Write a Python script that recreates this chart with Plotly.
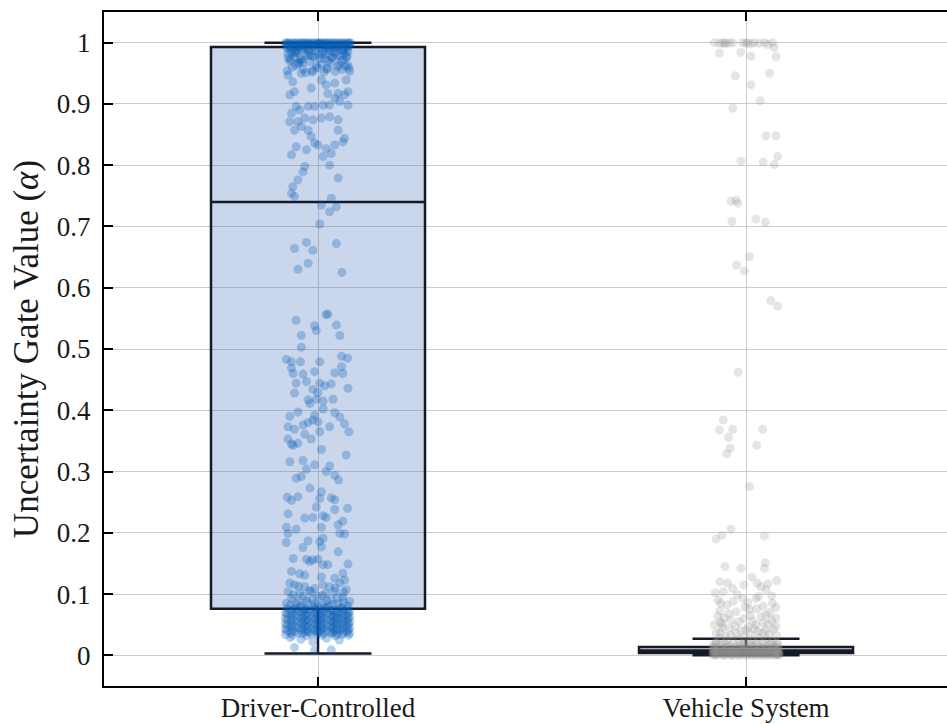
import plotly.graph_objects as go

categories = ["Driver-Controlled", "Vehicle System"]
y_tick_vals = [0, 0.1, 0.2, 0.3, 0.4, 0.5, 0.6, 0.7, 0.8, 0.9, 1.0]
y_tick_text = ["0", "0.1", "0.2", "0.3", "0.4", "0.5", "0.6", "0.7", "0.8", "0.9", "1"]

# box statistics
box_q1 = [0.076, 0.004]
box_median = [0.740, 0.008]
box_q3 = [0.993, 0.0135]
box_lower = [0.003, 0.000]
box_upper = [1.000, 0.027]

# ---- Driver-Controlled points: gate value and horizontal jitter (category units)
drv_top_y = [
    1.000, 1.000, 1.000, 1.000, 1.000, 1.000, 1.000, 1.000, 1.000, 1.000,
    1.000, 1.000, 1.000, 1.000, 1.000, 1.000, 1.000, 1.000, 1.000, 1.000,
    0.999, 0.999, 0.999, 0.999, 0.999, 0.999, 0.999, 0.999, 0.999, 0.999,
    0.998, 0.998, 0.998, 0.998, 0.998, 0.998, 0.998, 0.998, 0.998, 0.998,
    0.997, 0.997, 0.997, 0.997, 0.997, 0.997, 0.997, 0.997, 0.997, 0.997,
    0.996, 0.995, 0.996, 0.995, 0.996, 0.995, 0.996, 0.995, 0.996, 0.995,
    0.994, 0.993, 0.994, 0.993, 0.994, 0.993, 0.994, 0.993, 0.994, 0.993,
    0.992, 0.991, 0.990, 0.992, 0.991, 0.990, 0.992, 0.991, 0.990, 0.992,
    0.989, 0.988, 0.987, 0.989, 0.988, 0.987, 0.986, 0.985, 0.984, 0.983,
    0.982, 0.981, 0.980, 0.979, 0.978, 0.977, 0.976, 0.975, 0.974, 0.973,
    0.972, 0.970, 0.969, 0.967, 0.966, 0.965, 0.963, 0.962, 0.961, 0.960,
    0.958, 0.957, 0.956, 0.955, 0.954, 0.953, 0.952, 0.951, 0.958, 0.963,
    0.988, 0.986, 0.984, 0.982, 0.980, 0.978, 0.976, 0.974, 0.972, 0.970,
    0.985, 0.983, 0.981, 0.979, 0.977, 0.975, 0.971, 0.968, 0.964, 0.959,
    0.990, 0.987, 0.984, 0.981, 0.976, 0.973, 0.968, 0.962, 0.957, 0.952,
]
drv_top_dx = [
    -0.074, -0.058, -0.041, -0.027, -0.010, 0.004, 0.019, 0.035, 0.052, 0.070,
    -0.067, -0.049, -0.033, -0.018, 0.000, 0.012, 0.027, 0.044, 0.061, 0.076,
    -0.071, -0.053, -0.037, -0.022, -0.005, 0.008, 0.023, 0.040, 0.057, 0.073,
    -0.062, -0.045, -0.030, -0.014, 0.002, 0.016, 0.031, 0.048, 0.064, -0.076,
    -0.069, -0.051, -0.035, -0.020, -0.003, 0.010, 0.025, 0.042, 0.059, 0.074,
    -0.060, -0.043, -0.028, -0.012, 0.005, 0.018, 0.033, 0.050, 0.066, -0.073,
    -0.066, -0.047, -0.024, -0.008, 0.014, 0.029, 0.046, 0.063, 0.071, -0.038,
    -0.056, -0.072, -0.016, 0.021, 0.038, 0.055, -0.032, 0.006, 0.068, 0.045,
    -0.064, -0.040, -0.006, 0.026, 0.058, -0.022, 0.012, 0.070, -0.050, 0.040,
    -0.070, 0.018, -0.030, 0.052, -0.012, 0.066, -0.054, 0.034, 0.004, -0.042,
    0.060, -0.066, -0.020, 0.030, -0.046, 0.008, 0.070, -0.004, 0.046, -0.060,
    0.022, -0.034, 0.056, -0.012, -0.072, 0.040, 0.014, -0.028, 0.072, -0.052,
    -0.048, 0.028, -0.062, 0.062, -0.024, 0.044, -0.008, 0.016, -0.038, 0.054,
    0.036, -0.056, 0.010, -0.018, 0.068, -0.070, 0.024, -0.044, 0.050, -0.002,
    -0.026, 0.058, -0.052, 0.002, 0.032, -0.064, -0.036, 0.064, 0.020, -0.014,
]

drv_mid_y = [
    0.947, 0.936, 0.950, 0.926, 0.939, 0.931, 0.917, 0.934, 0.939, 0.953,
    0.917, 0.915, 0.915, 0.920, 0.896, 0.885, 0.890, 0.896, 0.896, 0.898,
    0.898, 0.904, 0.898, 0.920, 0.909, 0.871, 0.871, 0.877, 0.874, 0.877,
    0.879, 0.874, 0.857, 0.863, 0.857, 0.847, 0.857, 0.844, 0.838, 0.836,
    0.833, 0.830, 0.825, 0.827, 0.833, 0.819, 0.817, 0.814, 0.800, 0.798,
    0.789, 0.776, 0.779, 0.765, 0.754, 0.749, 0.746, 0.735, 0.732,
    0.724, 0.704, 0.664, 0.674, 0.661, 0.672, 0.640, 0.630, 0.625, 0.547,
    0.556, 0.557, 0.538, 0.530, 0.539, 0.522, 0.522, 0.503, 0.483, 0.479,
    0.479, 0.479, 0.488, 0.485, 0.469, 0.460, 0.459, 0.463, 0.461, 0.460,
    0.471, 0.444, 0.447, 0.444, 0.440, 0.443, 0.436, 0.434, 0.428, 0.429,
    0.417, 0.418, 0.415, 0.418, 0.411, 0.397, 0.392, 0.396, 0.390, 0.402,
]
drv_mid_dx = [
    -0.070, -0.059, -0.039, -0.016, 0.008, 0.019, 0.023, 0.039, 0.066, 0.074,
    0.047, 0.062, -0.066, -0.055, -0.051, -0.062, -0.043, -0.023, -0.008, 0.012,
    0.027, 0.051, 0.070, 0.070, 0.040, -0.066, -0.047, -0.031, -0.012, 0.008,
    0.027, 0.047, -0.055, -0.039, -0.023, -0.016, 0.047, 0.062, 0.058, -0.008,
    0.000, -0.051, -0.027, 0.019, 0.039, 0.031, -0.062, 0.012, 0.027, -0.031,
    -0.035, -0.047, 0.047, -0.059, -0.062, -0.055, 0.031, 0.008, 0.043,
    0.027, 0.004, -0.055, -0.027, -0.012, 0.043, -0.023, -0.047, 0.056, -0.051,
    0.019, 0.023, -0.008, -0.004, 0.043, -0.039, 0.051, -0.039, -0.074, -0.062,
    -0.041, 0.004, 0.055, 0.069, -0.062, -0.058, -0.035, -0.008, 0.039, 0.058,
    0.055, -0.051, -0.027, 0.004, 0.016, 0.031, 0.070, -0.012, -0.055, 0.000,
    -0.023, -0.004, 0.012, 0.035, -0.019, -0.047, -0.008, 0.039, -0.066, 0.012,
]

drv_low_y = [
    0.389, 0.373, 0.369, 0.376, 0.380, 0.384, 0.381, 0.373, 0.378, 0.365,
    0.361, 0.365, 0.353, 0.353, 0.345, 0.343, 0.346, 0.336, 0.327, 0.316,
    0.318, 0.311, 0.304, 0.309, 0.300, 0.294, 0.289, 0.292, 0.286, 0.273,
    0.267, 0.258, 0.253, 0.259, 0.256, 0.257, 0.254, 0.242, 0.238, 0.240,
    0.231, 0.224, 0.225, 0.228, 0.225, 0.219, 0.213, 0.209, 0.206, 0.209,
    0.199, 0.199, 0.198, 0.184, 0.187, 0.186, 0.191, 0.176, 0.177, 0.169,
    0.158, 0.157, 0.153, 0.156, 0.157, 0.148, 0.148, 0.149, 0.137, 0.133,
    0.131, 0.134, 0.123, 0.126, 0.128,
]
drv_low_dx = [
    0.051, -0.070, -0.055, -0.035, -0.023, -0.012, 0.000, 0.027, 0.062, 0.072,
    -0.031, 0.004, -0.016, -0.070, -0.062, -0.058, -0.047, 0.008, 0.066, -0.066,
    -0.035, -0.008, -0.027, 0.027, 0.019, 0.039, -0.051, -0.039, 0.048, -0.019,
    0.008, -0.072, -0.062, -0.047, 0.004, 0.031, 0.039, -0.004, 0.039, 0.069,
    -0.070, -0.031, -0.012, 0.012, 0.019, 0.058, 0.047, -0.074, -0.051, 0.008,
    -0.070, 0.051, 0.062, -0.074, -0.023, 0.004, 0.012, -0.035, 0.008, 0.047,
    -0.058, -0.027, -0.019, -0.012, 0.000, 0.012, 0.023, 0.070, -0.062, -0.043,
    -0.031, 0.058, 0.062, 0.039, 0.008,
]

drv_base_y = [
    0.115, 0.112, 0.109, 0.115, 0.112, 0.118, 0.107, 0.104, 0.101, 0.104,
    0.101, 0.104, 0.093, 0.090, 0.096, 0.091, 0.095, 0.088, 0.085, 0.085,
    0.084, 0.086, 0.084,
    0.118, 0.113, 0.110, 0.106, 0.103, 0.099, 0.098, 0.097, 0.094, 0.092,
    0.089, 0.088, 0.087, 0.086, 0.083, 0.082, 0.081, 0.081, 0.080, 0.080,
    0.079, 0.078, 0.077, 0.077, 0.076,
    0.076, 0.075, 0.077, 0.074, 0.076, 0.075, 0.077, 0.074, 0.076, 0.075,
    0.073, 0.072, 0.074, 0.071, 0.073, 0.072, 0.074, 0.071, 0.073, 0.072,
    0.070, 0.069, 0.071, 0.068, 0.070, 0.069, 0.071, 0.068, 0.070, 0.069,
    0.067, 0.066, 0.068, 0.065, 0.067, 0.066, 0.068, 0.065, 0.067, 0.066,
    0.064, 0.063, 0.065, 0.062, 0.064, 0.063, 0.065, 0.062, 0.064, 0.063,
    0.061, 0.060, 0.062, 0.059, 0.061, 0.060, 0.062, 0.059, 0.061, 0.060,
    0.058, 0.057, 0.059, 0.056, 0.058, 0.057, 0.059, 0.056, 0.058, 0.057,
    0.055, 0.054, 0.056, 0.053, 0.055, 0.054, 0.056, 0.053, 0.055, 0.054,
    0.052, 0.051, 0.053, 0.050, 0.052, 0.051, 0.053, 0.050, 0.052, 0.051,
    0.049, 0.048, 0.050, 0.047, 0.049, 0.048, 0.050, 0.047, 0.049, 0.048,
    0.046, 0.045, 0.047, 0.044, 0.046, 0.045, 0.047, 0.044, 0.046, 0.045,
    0.043, 0.042, 0.044, 0.041, 0.043, 0.042, 0.044, 0.041, 0.043, 0.042,
    0.040, 0.039, 0.041, 0.038, 0.040, 0.039, 0.041, 0.038, 0.040, 0.039,
    0.037, 0.036, 0.038, 0.035, 0.037, 0.036, 0.038, 0.035, 0.037, 0.036,
    0.034, 0.033, 0.035, 0.032, 0.034, 0.033, 0.035, 0.032, 0.034, 0.033,
    0.029, 0.028, 0.026, 0.025, 0.022, 0.013, 0.009, 0.008,
]
drv_base_dx = [
    -0.055, -0.031, -0.008, 0.012, 0.027, 0.051, 0.066, -0.070, -0.043, -0.016,
    0.019, 0.039, -0.062, -0.027, 0.000, 0.031, 0.058, 0.074, -0.074, -0.051,
    -0.008, 0.012, 0.047,
    -0.066, -0.045, 0.040, -0.020, 0.060, -0.058, 0.010, -0.035, 0.045, -0.012,
    0.020, -0.045, 0.060, -0.025, 0.035, -0.065, 0.000, 0.070, -0.040, 0.025,
    -0.010, 0.055, -0.055, 0.015, -0.030,
    -0.072, -0.055, -0.040, -0.022, -0.008, 0.006, 0.021, 0.037, 0.052, 0.068,
    -0.064, -0.047, -0.031, -0.015, 0.000, 0.014, 0.029, 0.045, 0.060, 0.074,
    -0.076, -0.060, -0.036, -0.026, -0.003, 0.010, 0.033, 0.041, 0.056, 0.071,
    -0.072, -0.055, -0.040, -0.022, -0.008, 0.006, 0.021, 0.037, 0.052, 0.068,
    -0.064, -0.047, -0.031, -0.015, 0.000, 0.014, 0.029, 0.045, 0.060, 0.074,
    -0.076, -0.060, -0.036, -0.026, -0.003, 0.010, 0.033, 0.041, 0.056, 0.071,
    -0.072, -0.055, -0.040, -0.022, -0.008, 0.006, 0.021, 0.037, 0.052, 0.068,
    -0.064, -0.047, -0.031, -0.015, 0.000, 0.014, 0.029, 0.045, 0.060, 0.074,
    -0.076, -0.060, -0.036, -0.026, -0.003, 0.010, 0.033, 0.041, 0.056, 0.071,
    -0.072, -0.055, -0.040, -0.022, -0.008, 0.006, 0.021, 0.037, 0.052, 0.068,
    -0.064, -0.047, -0.031, -0.015, 0.000, 0.014, 0.029, 0.045, 0.060, 0.074,
    -0.076, -0.060, -0.036, -0.026, -0.003, 0.010, 0.033, 0.041, 0.056, 0.071,
    -0.072, -0.055, -0.040, -0.022, -0.008, 0.006, 0.021, 0.037, 0.052, 0.068,
    -0.064, -0.047, -0.031, -0.015, 0.000, 0.014, 0.029, 0.045, 0.060, 0.074,
    -0.076, -0.060, -0.036, -0.026, -0.003, 0.010, 0.033, 0.041, 0.056, 0.071,
    -0.065, 0.020, -0.040, 0.050, -0.012, -0.055, 0.031, -0.008,
]

# ---- Vehicle System points
veh_high_y = [
    1.000, 0.999, 1.000, 0.998, 1.000, 0.999, 1.000, 1.000, 0.999, 1.000,
    0.998, 1.000, 0.999, 1.000, 0.997, 1.000,
    0.992, 0.983, 0.984, 0.978, 0.977, 0.946, 0.950, 0.931, 0.905, 0.893,
    0.848, 0.848, 0.807, 0.814, 0.805, 0.801, 0.741, 0.738, 0.743, 0.708,
    0.712, 0.707, 0.651, 0.637, 0.627, 0.579, 0.570, 0.462, 0.384, 0.369,
    0.368, 0.369,
]
veh_high_dx = [
    -0.074, -0.062, -0.055, -0.050, -0.047, -0.039, -0.031, -0.008, 0.000, 0.004,
    0.012, 0.019, 0.031, 0.043, 0.051, 0.062,
    0.066, -0.062, -0.012, 0.012, 0.070, -0.025, 0.055, 0.012, 0.033, -0.031,
    0.047, 0.070, -0.012, 0.074, 0.040, 0.066, -0.035, -0.019, -0.023, -0.033,
    0.023, 0.045, 0.008, -0.022, -0.004, 0.058, 0.074, -0.018, -0.053, -0.031,
    -0.062, 0.039,
]

veh_low_y = [
    0.356, 0.338, 0.329, 0.343, 0.275, 0.190, 0.196, 0.206, 0.195, 0.145,
    0.142, 0.151, 0.142, 0.120, 0.118, 0.128, 0.118, 0.117, 0.122, 0.109,
    0.102, 0.104, 0.088, 0.093, 0.086, 0.093, 0.107, 0.085, 0.085, 0.073,
    0.075, 0.078, 0.071, 0.061, 0.058, 0.055, 0.066, 0.061, 0.050, 0.052,
    0.050, 0.051, 0.044, 0.042, 0.043, 0.043, 0.036, 0.036, 0.037, 0.031,
    0.030,
    0.115, 0.112, 0.099, 0.097, 0.096, 0.090, 0.082, 0.080, 0.079, 0.076,
    0.070, 0.068, 0.065, 0.064, 0.063, 0.060, 0.057, 0.056, 0.054, 0.053,
    0.048, 0.047, 0.046, 0.045, 0.041, 0.040, 0.039, 0.038, 0.035, 0.034,
    0.033, 0.032, 0.029, 0.028, 0.027, 0.026, 0.025, 0.024, 0.023, 0.022,
]
veh_low_dx = [
    -0.041, -0.037, -0.045, 0.025, 0.008, -0.070, -0.056, -0.035, 0.043, -0.049,
    -0.012, 0.045, 0.043, -0.061, -0.043, 0.014, 0.026, 0.051, 0.072, -0.031,
    -0.072, -0.053, -0.030, -0.008, 0.004, 0.023, 0.047, -0.059, 0.062, -0.061,
    0.008, 0.070, -0.023, -0.051, -0.035, -0.016, 0.047, 0.070, -0.074, -0.055,
    0.023, 0.051, -0.039, 0.000, 0.019, 0.064, -0.070, -0.023, 0.039, -0.047,
    -0.004,
    -0.005, 0.035, -0.020, 0.060, 0.030, -0.065, -0.045, 0.040, -0.002, 0.025,
    0.055, -0.040, 0.010, -0.066, 0.035, -0.005, 0.060, 0.015, -0.060, 0.040,
    -0.025, 0.070, 0.005, -0.055, 0.045, -0.012, 0.028, -0.060, 0.055, 0.010,
    -0.035, 0.072, 0.030, -0.062, 0.048, -0.018, 0.015, -0.045, 0.062, -0.070,
]

veh_base_y = [
    0.020, 0.019, 0.021, 0.018, 0.020, 0.019, 0.021, 0.018, 0.020, 0.019,
    0.016, 0.017, 0.016, 0.015, 0.016, 0.017, 0.016, 0.015, 0.016, 0.017,
    0.013, 0.014, 0.013, 0.012, 0.013, 0.014, 0.013, 0.012, 0.013, 0.014,
    0.011, 0.011, 0.010, 0.011, 0.011, 0.010, 0.011, 0.011, 0.010, 0.011,
    0.009, 0.009, 0.008, 0.009, 0.009, 0.008, 0.009, 0.009, 0.008, 0.009,
    0.007, 0.007, 0.007, 0.007, 0.007, 0.007, 0.007, 0.007, 0.007, 0.007,
    0.006, 0.005, 0.006, 0.005, 0.006, 0.005, 0.006, 0.005, 0.006, 0.005,
    0.004, 0.004, 0.004, 0.004, 0.004, 0.004, 0.004, 0.004, 0.004, 0.004,
    0.003, 0.003, 0.003, 0.003, 0.003, 0.003, 0.003, 0.003, 0.003, 0.003,
    0.002, 0.002, 0.002, 0.002, 0.002, 0.002, 0.002, 0.002, 0.002, 0.002,
    0.001, 0.001, 0.001, 0.001, 0.001, 0.001, 0.001, 0.001, 0.001, 0.001,
    0.000, 0.000, 0.000, 0.000, 0.000, 0.000, 0.000, 0.000, 0.000, 0.000,
]
veh_base_dx = [
    -0.070, -0.050, -0.030, -0.012, 0.006, 0.024, 0.040, 0.056, 0.072, -0.004,
    -0.076, -0.058, -0.040, -0.022, -0.004, 0.014, 0.032, 0.048, 0.064, 0.076,
    -0.066, -0.048, -0.031, -0.014, 0.003, 0.020, 0.037, 0.053, 0.069, -0.077,
    -0.072, -0.054, -0.036, -0.018, 0.000, 0.017, 0.034, 0.051, 0.067, 0.075,
    -0.062, -0.045, -0.027, -0.009, 0.009, 0.026, 0.043, 0.060, 0.074, -0.077,
    -0.069, -0.051, -0.033, -0.016, 0.002, 0.019, 0.036, 0.053, 0.070, -0.076,
    -0.073, -0.056, -0.038, -0.020, -0.003, 0.014, 0.031, 0.048, 0.065, 0.077,
    -0.064, -0.046, -0.029, -0.011, 0.007, 0.024, 0.041, 0.058, 0.074, -0.077,
    -0.070, -0.052, -0.034, -0.017, 0.001, 0.018, 0.035, 0.052, 0.069, 0.077,
    -0.075, -0.057, -0.039, -0.022, -0.005, 0.012, 0.029, 0.046, 0.063, 0.076,
    -0.066, -0.048, -0.031, -0.013, 0.005, 0.022, 0.039, 0.056, 0.072, -0.077,
    -0.071, -0.053, -0.035, -0.018, 0.000, 0.017, 0.034, 0.050, 0.066, 0.077,
]

driver_y = drv_top_y + drv_mid_y + drv_low_y + drv_base_y
driver_dx = drv_top_dx + drv_mid_dx + drv_low_dx + drv_base_dx
vehicle_y = veh_high_y + veh_low_y + veh_base_y
vehicle_dx = veh_high_dx + veh_low_dx + veh_base_dx
assert len(driver_y) == len(driver_dx), (len(driver_y), len(driver_dx))
assert len(vehicle_y) == len(vehicle_dx), (len(vehicle_y), len(vehicle_dx))

FONT = "Liberation Serif"
box_fill = ["rgba(43,91,179,0.25)", "rgba(150,150,150,0.35)"]
point_color = ["rgba(8,94,184,0.29)", "rgba(145,145,145,0.24)"]

fig = go.Figure()
for i in range(2):
    fig.add_trace(go.Box(
        x=[i], q1=[box_q1[i]], median=[box_median[i]], q3=[box_q3[i]],
        lowerfence=[box_lower[i]], upperfence=[box_upper[i]],
        width=0.5, whiskerwidth=0.5, boxpoints=False,
        fillcolor=box_fill[i], line=dict(color="#141a26", width=2.5),
        showlegend=False, hoverinfo="skip",
    ))

pts = [(driver_y, driver_dx), (vehicle_y, vehicle_dx)]
for i, (ys, dxs) in enumerate(pts):
    fig.add_trace(go.Scatter(
        x=[i + d for d in dxs], y=ys, mode="markers",
        marker=dict(size=9, color=point_color[i], line=dict(width=0)),
        showlegend=False, hoverinfo="skip",
    ))

fig.update_layout(
    width=947, height=724,
    margin=dict(l=104, r=0, t=12, b=38, autoexpand=False),
    paper_bgcolor="white", plot_bgcolor="white",
    font=dict(family=FONT, color="#1a1a1a"),
    xaxis=dict(
        range=[-0.5, 1.4696], tickmode="array", tickvals=[0, 1], ticktext=categories,
        automargin=False,
        showgrid=True, gridcolor="#cccccc", gridwidth=1, zeroline=False,
        showline=True, linecolor="black", linewidth=2, mirror="ticks",
        ticks="inside", ticklen=9, tickwidth=2, tickcolor="black",
        tickfont=dict(family=FONT, size=27, color="#1a1a1a"),
        ticklabelstandoff=-3,
    ),
    yaxis=dict(
        range=[-0.05, 1.05], tickmode="array", tickvals=y_tick_vals, ticktext=y_tick_text,
        automargin=False,
        showgrid=True, gridcolor="#cccccc", gridwidth=1, zeroline=False,
        showline=True, linecolor="black", linewidth=2,
        ticks="inside", ticklen=9, tickwidth=2, tickcolor="black",
        tickfont=dict(family=FONT, size=27, color="#1a1a1a"),
        ticklabelstandoff=6,
        title=dict(text="Uncertainty Gate Value (<i>α</i>)",
                   font=dict(family=FONT, size=35, color="#1a1a1a"), standoff=8),
    ),
)

fig.write_html("out.html", config={"displayModeBar": False, "staticPlot": True})

# remove the browser's default page margin so the figure sits at the window's corner
with open("out.html", "r", encoding="utf-8") as fh:
    html = fh.read()
html = html.replace("<head>", "<head><style>html,body{margin:0;padding:0;overflow:hidden;}</style>", 1)
with open("out.html", "w", encoding="utf-8") as fh:
    fh.write(html)
